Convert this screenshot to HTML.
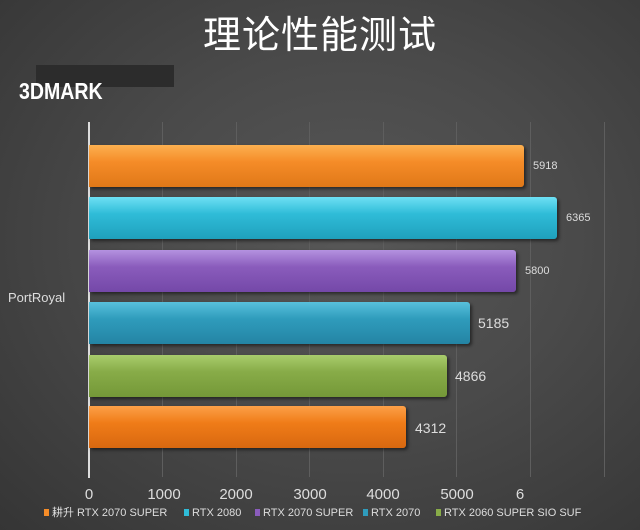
<!DOCTYPE html>
<html><head><meta charset="utf-8"><style>
body{margin:0;width:640px;height:530px;overflow:hidden;background:radial-gradient(ellipse at 55% 45%,#575757 0%,#4a4a4a 45%,#353535 100%);font-family:"Liberation Sans","Noto Sans CJK SC",sans-serif;position:relative;color:#eee}
.a{position:absolute}
.bar{position:absolute;left:89px;height:42px;border-radius:0 3px 3px 0;box-shadow:2px 2px 3px rgba(0,0,0,.5)}
.g{position:absolute;top:122px;height:355px;width:1px;background:#5e5e5e}
.v{position:absolute;color:#ddd}
.t{position:absolute;top:486px;font-size:15px;color:#ddd;transform:translateX(-50%)}
.lg{position:absolute;top:506px;height:14px;line-height:14px;font-size:11px;color:#ddd;white-space:nowrap}
.sq{display:inline-block;width:5px;height:7px;margin-right:3px;vertical-align:0}
</style></head><body>
<div class="a" style="left:0;width:640px;top:4px;text-align:center;font-size:38px;color:#fff;font-family:'Noto Sans CJK SC',sans-serif;letter-spacing:1px">理论性能测试</div>
<div class="a" style="left:36px;top:65px;width:138px;height:22px;background:#2c2c2c"></div>
<div class="a" style="left:19px;top:78px;font-size:23px;font-weight:bold;color:#fff;transform:scaleX(.85);transform-origin:left">3DMARK</div>
<div class="g" style="left:162px"></div><div class="g" style="left:236px"></div><div class="g" style="left:309px"></div><div class="g" style="left:383px"></div><div class="g" style="left:456px"></div><div class="g" style="left:530px"></div><div class="g" style="left:604px"></div>
<div class="a" style="left:88px;top:122px;width:2px;height:356px;background:#ddd"></div>
<div class="bar" style="top:145px;width:435px;background:linear-gradient(#fcb050,#f58c28 40%,#e07818)"></div>
<div class="bar" style="top:197px;width:468px;background:linear-gradient(#6ee0f4,#2fbcd8 40%,#1fa0bc)"></div>
<div class="bar" style="top:250px;width:427px;background:linear-gradient(#b492e0,#8a5cbc 40%,#7448a8)"></div>
<div class="bar" style="top:302px;width:381px;background:linear-gradient(#58c0dc,#2f9cbc 40%,#2484a4)"></div>
<div class="bar" style="top:355px;width:358px;background:linear-gradient(#a8cc6c,#88ac48 40%,#749838)"></div>
<div class="bar" style="top:406px;width:317px;background:linear-gradient(#fca048,#f07c18 40%,#d86810)"></div>
<div class="v" style="left:533px;top:160px;font-size:11px">5918</div>
<div class="v" style="left:566px;top:212px;font-size:11px">6365</div>
<div class="v" style="left:525px;top:265px;font-size:11px">5800</div>
<div class="v" style="left:478px;top:315px;font-size:14px">5185</div>
<div class="v" style="left:455px;top:368px;font-size:14px">4866</div>
<div class="v" style="left:415px;top:420px;font-size:14px">4312</div>
<div class="v" style="left:8px;top:290px;font-size:13px">PortRoyal</div>
<div class="t" style="left:89px">0</div><div class="t" style="left:164px">1000</div><div class="t" style="left:236px">2000</div><div class="t" style="left:310px">3000</div><div class="t" style="left:383px">4000</div><div class="t" style="left:457px">5000</div><div class="t" style="left:520px">6</div>
<div class="lg" style="left:44px"><span class="sq" style="background:#f58c28"></span>耕升 RTX 2070 SUPER</div>
<div class="lg" style="left:184px"><span class="sq" style="background:#2fbcd8"></span>RTX 2080</div>
<div class="lg" style="left:255px"><span class="sq" style="background:#8a5cbc"></span>RTX 2070 SUPER</div>
<div class="lg" style="left:363px"><span class="sq" style="background:#2f9cbc"></span>RTX 2070</div>
<div class="lg" style="left:436px"><span class="sq" style="background:#88ac48"></span>RTX 2060 SUPER SIO SUF</div>
</body></html>
